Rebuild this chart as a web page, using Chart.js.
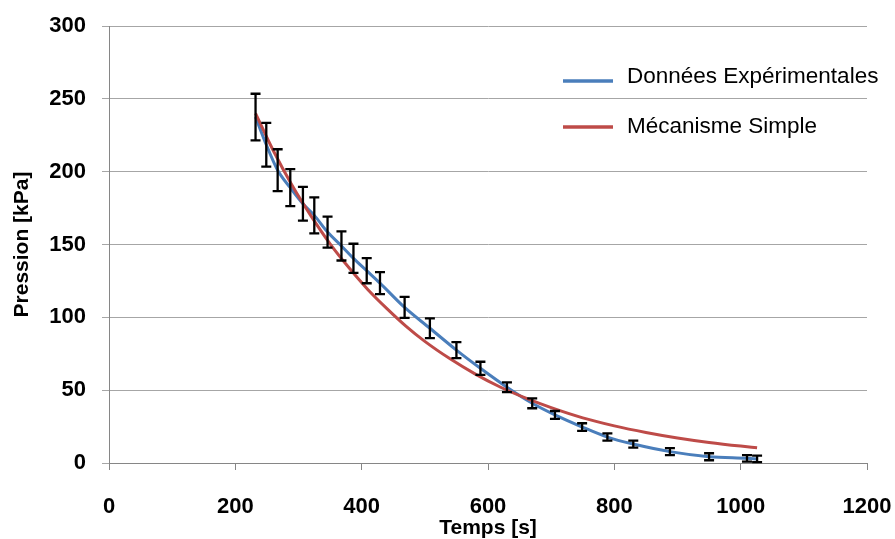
<!DOCTYPE html>
<html>
<head>
<meta charset="utf-8">
<script src="https://cdn.jsdelivr.net/npm/chart.js@4.4.1/dist/chart.umd.min.js"></script>
<style>
  html, body { margin: 0; padding: 0; background: #ffffff; }
  #wrap { width: 895px; height: 539px; position: relative; }
</style>
</head>
<body>
<div id="wrap"><canvas id="c" width="895" height="539"></canvas></div>
<script>
// Experimental data (time in s, pressure in kPa, error half-width in kPa)
const expTimes    = [232, 249, 267, 287, 307, 325, 346, 368, 387, 408, 429, 468, 508, 550, 588, 630, 670, 706, 749, 789, 830, 888, 950, 1010, 1026];
const expPressure = [237.5, 218.5, 201, 189, 178, 170, 158.5, 149, 140.5, 132, 123.5, 106.8, 92.5, 77.5, 65, 52, 41, 33, 24.7, 17.8, 13, 7.8, 4.3, 3.2, 2.8];
const expErrors   = [16, 15, 14.4, 12.7, 11.6, 12.3, 10.6, 10, 10, 8.6, 7.5, 7.2, 6.8, 5.5, 4.5, 3.4, 3.4, 2.7, 2.6, 2.5, 2.4, 2.4, 2.4, 2.2, 2.2];

// Simple mechanism curve
const modelTimes    = [232, 260, 290, 320, 350, 380, 410, 440, 470, 500, 540, 580, 620, 660, 700, 750, 800, 850, 900, 950, 1000, 1026];
const modelPressure = [240, 214.5, 190.5, 169.5, 150.5, 134, 119, 106, 94, 83.5, 71.5, 61, 52, 44.5, 38, 31, 25.5, 21, 17.2, 14.1, 11.6, 10.5];

const seriesLabels = ['Données Expérimentales', 'Mécanisme Simple'];
const seriesColors = ['#4A7EBB', '#BE4B48'];

const xTitle = 'Temps [s]';
const yTitle = 'Pression [kPa]';

const errorBarPlugin = {
  id: 'errorBars',
  afterDatasetsDraw(chart) {
    const { ctx, scales: { x, y } } = chart;
    ctx.save();
    ctx.strokeStyle = '#000000';
    ctx.lineWidth = 2.3;
    expTimes.forEach((t, i) => {
      const px = x.getPixelForValue(t);
      const top = y.getPixelForValue(expPressure[i] + expErrors[i]);
      const bot = y.getPixelForValue(expPressure[i] - expErrors[i]);
      ctx.beginPath();
      ctx.moveTo(px, top); ctx.lineTo(px, bot);
      ctx.moveTo(px - 5, top); ctx.lineTo(px + 5, top);
      ctx.moveTo(px - 5, bot); ctx.lineTo(px + 5, bot);
      ctx.stroke();
    });
    ctx.restore();
  }
};

const legendPlugin = {
  id: 'insideLegend',
  afterDraw(chart) {
    const { ctx } = chart;
    const rows = [
      { lineY: 81, textY: 83, i: 0 },
      { lineY: 127, textY: 133, i: 1 }
    ];
    ctx.save();
    rows.forEach(r => {
      const ds = chart.data.datasets[r.i];
      ctx.strokeStyle = ds.borderColor;
      ctx.lineWidth = 3.5;
      ctx.lineCap = 'butt';
      ctx.beginPath();
      ctx.moveTo(563, r.lineY);
      ctx.lineTo(613, r.lineY);
      ctx.stroke();
      ctx.fillStyle = '#000000';
      ctx.font = '22.5px "Liberation Sans", Arial, sans-serif';
      ctx.textBaseline = 'alphabetic';
      ctx.textAlign = 'left';
      ctx.fillText(ds.label, 627, r.textY);
    });
    ctx.restore();
  }
};

Chart.defaults.font.family = '"Liberation Sans", Arial, sans-serif';
Chart.defaults.color = '#000000';

new Chart(document.getElementById('c'), {
  type: 'line',
  data: {
    datasets: [
      {
        label: seriesLabels[0],
        data: expTimes.map((t, i) => ({ x: t, y: expPressure[i] })),
        borderColor: seriesColors[0],
        backgroundColor: seriesColors[0],
        borderWidth: 3,
        pointRadius: 0,
        cubicInterpolationMode: 'monotone',
        order: 1
      },
      {
        label: seriesLabels[1],
        data: modelTimes.map((t, i) => ({ x: t, y: modelPressure[i] })),
        borderColor: seriesColors[1],
        backgroundColor: seriesColors[1],
        borderWidth: 3,
        pointRadius: 0,
        cubicInterpolationMode: 'monotone',
        order: 0
      }
    ]
  },
  options: {
    responsive: false,
    animation: false,
    devicePixelRatio: 1,
    layout: { padding: { top: 26, right: 28, left: 0, bottom: 0 } },
    plugins: {
      legend: { display: false },
      tooltip: { enabled: false }
    },
    scales: {
      x: {
        type: 'linear',
        min: 0,
        max: 1200,
        ticks: { stepSize: 200, padding: 24, font: { size: 22, weight: 'bold' }, color: '#000000', maxRotation: 0,
                 callback: (v) => String(v) },
        grid: { drawOnChartArea: false, drawTicks: true, tickLength: 7, color: '#868686' },
        border: { display: true, color: '#868686', width: 1 },
        title: { display: true, text: xTitle, font: { size: 21, weight: 'bold' }, color: '#000000', padding: { top: 0, bottom: -2 } },
        afterFit(scale) { scale.height = 76; scale.paddingLeft = 0; scale.paddingRight = 0; }
      },
      y: {
        type: 'linear',
        min: 0,
        max: 300,
        ticks: { stepSize: 50, padding: 16, font: { size: 22, weight: 'bold' }, color: '#000000',
                 callback: (v) => String(v) },
        grid: { drawOnChartArea: true, drawTicks: true, tickLength: 7, color: '#a6a6a6' },
        border: { display: true, color: '#868686', width: 1 },
        title: { display: true, text: yTitle, font: { size: 21, weight: 'bold' }, color: '#000000', padding: { top: 10, bottom: 0 } },
        afterFit(scale) { scale.width = 109; scale.paddingTop = 0; scale.paddingBottom = 0; }
      }
    }
  },
  plugins: [errorBarPlugin, legendPlugin]
});
</script>
</body>
</html>
